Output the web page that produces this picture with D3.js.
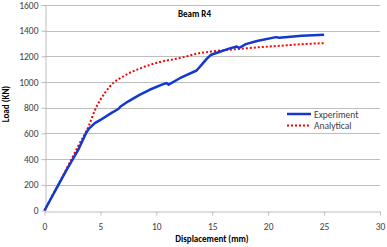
<!DOCTYPE html>
<html>
<head>
<meta charset="UTF-8" />
<title>Beam R4</title>
<script src="https://d3js.org/d3.v7.min.js"></script>
<style>
  body { margin: 0; background: #fff; }
  text { font-family: Calibri, "Liberation Sans", Arial, sans-serif; }
</style>
</head>
<body>
<svg id="chart" width="387" height="247"></svg>
<script>
// data (displacement mm, load kN)
var expDisp = [0, 1, 2, 3, 3.7, 4.0, 4.5, 5.0, 6.0, 6.6, 6.8, 7.5, 8.5, 9.4, 10.5, 10.9, 11.1, 12.1, 13.6, 14.1, 14.5, 14.9, 15.5, 16.5, 17.2, 17.4, 18, 19, 20.7, 21, 23, 25];
var expLoad = [0, 160, 320, 470, 600, 640, 680, 705, 760, 790, 810, 850, 900, 940, 980, 992, 980, 1030, 1090, 1140, 1180, 1213, 1230, 1260, 1277, 1265, 1295, 1320, 1350, 1345, 1360, 1368];
var anaDisp = [0, 1, 2, 3, 4, 4.5, 5, 5.8, 7.3, 8.5, 10.3, 12.1, 13.9, 14.9, 17, 19, 21, 23, 25];
var anaLoad = [0, 165, 330, 500, 667, 780, 862, 961, 1057, 1105, 1156, 1187, 1226, 1238, 1255, 1270, 1282, 1295, 1303];
var xTicks = [0, 5, 10, 15, 20, 25, 30];
var yTicks = [0, 200, 400, 600, 800, 1000, 1200, 1400, 1600];

var svg = d3.select("#chart");
var x = d3.scaleLinear().domain([0, 30]).range([44.5, 380]);
var y = d3.scaleLinear().domain([0, 1600]).range([210.5, 5]);
var grey = "#bdbdbd";
var labCol = "#404040";
var blue = "#1238d0";

// gridlines
svg.append("g").selectAll("line").data(yTicks.slice(1)).join("line")
  .attr("x1", x(0)).attr("x2", x(30))
  .attr("y1", d => Math.round(y(d)) + 0.5).attr("y2", d => Math.round(y(d)) + 0.5)
  .attr("stroke", grey).attr("stroke-width", 1);

// axes
var xAxis = d3.axisBottom(x).tickValues(xTicks).tickSize(4).tickSizeOuter(0).tickFormat(d3.format("d"));
var gx = svg.append("g").attr("transform", "translate(0," + (Math.round(y(0)) + 0.5) + ")").call(xAxis);
var yAxis = d3.axisLeft(y).tickValues(yTicks).tickSize(4).tickSizeOuter(0).tickFormat(d3.format("d"));
var gy = svg.append("g").attr("transform", "translate(" + (Math.round(x(0)) + 0.5) + ",0)").call(yAxis);
[gx, gy].forEach(g => {
  g.select(".domain").attr("stroke", grey);
  g.selectAll(".tick line").attr("stroke", grey);
  g.selectAll(".tick text").attr("fill", labCol).style("font-size", "9.5px")
    .style("font-family", "Calibri, 'Liberation Sans', Arial, sans-serif");
});
gx.selectAll(".tick text").attr("dy", "1.25em");
gy.selectAll(".tick text").attr("x", -7);

// lines
svg.append("path").datum(anaDisp.map((d, i) => [d, anaLoad[i]]))
  .attr("d", d3.line().x(d => x(d[0])).y(d => y(d[1])).curve(d3.curveMonotoneX))
  .attr("fill", "none")
  .attr("stroke", "#ff0000").attr("stroke-width", 2).attr("stroke-dasharray", "2,2");
svg.append("path").datum(expDisp.map((d, i) => [d, expLoad[i]]))
  .attr("d", d3.line().x(d => x(d[0])).y(d => y(d[1]))).attr("fill", "none")
  .attr("stroke", blue).attr("stroke-width", 2.5).attr("stroke-linejoin", "round");

// title
svg.append("text").attr("x", 178).attr("y", 17).text("Beam R4")
  .style("font-size", "9px").style("font-weight", "bold").attr("fill", "#000");

// legend
var legend = [["Experiment", blue, null, 2.5], ["Analytical", "#ff0000", "2,2", 2]];
var lg = svg.append("g");
legend.forEach((l, i) => {
  var ly = 114 + i * 11.5;
  lg.append("line").attr("x1", 287).attr("x2", 311).attr("y1", ly).attr("y2", ly)
    .attr("stroke", l[1]).attr("stroke-width", l[3]).attr("stroke-dasharray", l[2]);
  lg.append("text").attr("x", 314).attr("y", ly + 3.5).text(l[0])
    .style("font-size", "9.5px").attr("fill", labCol);
});

// axis titles
svg.append("text").attr("x", 212).attr("y", 242).attr("text-anchor", "middle")
  .text("Displacement (mm)").style("font-size", "9px").style("font-weight", "bold");
svg.append("text").attr("transform", "translate(9,104) rotate(-90)").attr("text-anchor", "middle")
  .text("Load (KN)").style("font-size", "9px").style("font-weight", "bold");
</script>
</body>
</html>
